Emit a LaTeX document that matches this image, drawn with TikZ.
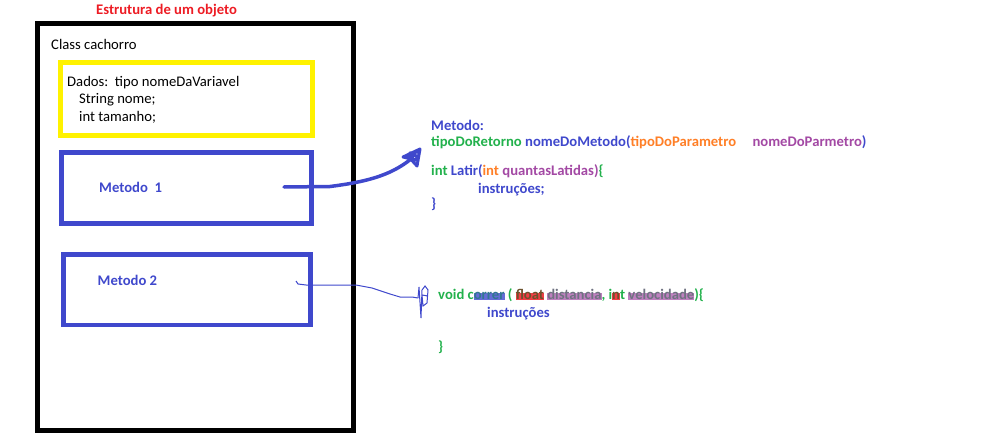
\documentclass[tikz,border=0pt]{standalone}
\usepackage{fontspec}
\setmainfont{Carlito}
\usetikzlibrary{positioning}

\definecolor{azul}{RGB}{63,72,204}
\definecolor{verde}{RGB}{34,177,76}
\definecolor{laranja}{RGB}{255,127,39}
\definecolor{roxo}{RGB}{163,73,164}
\definecolor{vermelho}{RGB}{237,28,36}
\definecolor{amarelo}{RGB}{255,242,0}

% marca de caneta por cima de uma palavra
\newsavebox\marcabox
\newcommand{\marca}[3]{\sbox\marcabox{\color{#2}#3}\rlap{\color{#1}\rule[-1pt]{\wd\marcabox}{7.5pt}}\usebox\marcabox}

\begin{document}
\begin{tikzpicture}[x=1pt, y=-1pt,
    caixa/.style={draw, rectangle, inner sep=0pt},
    texto/.style={anchor=base west, inner sep=0pt, font=\fontsize{14.67}{17.6}\selectfont},
    codigo/.style={texto, font=\fontsize{14.67}{17.6}\selectfont\bfseries}]
  \useasboundingbox (0,0) rectangle (992,444);

  \node[codigo, text=vermelho] (titulo) at (96,15) {Estrutura de um objeto};

  \node[caixa, line width=5, minimum width=316, minimum height=406.5] (classe) at (195.5,226.75) {};
  \node[texto] (nomeclasse) at (51,50) {Class cachorro};

  \node[caixa, draw=amarelo, line width=5, minimum width=252.5, minimum height=72.5] (dados) at (186.25,98.75) {};
  \node[texto] (dados1) at (67,86) {Dados:\ \ tipo nomeDaVariavel};
  \node[texto] (dados2) at (79,103.5) {String nome;};
  \node[texto] (dados3) at (79,121) {int tamanho;};

  \node[caixa, draw=azul, line width=4.7, minimum width=250, minimum height=71] (metodo1) at (186.7,188) {};
  \node[codigo, text=azul] (rotulo1) at (99,192.5) {Metodo\ \ 1};

  \node[caixa, draw=azul, line width=4.7, minimum width=247, minimum height=70.5] (metodo2) at (187,289.75) {};
  \node[codigo, text=azul] (rotulo2) at (97.5,285) {Metodo 2};

  % explicacao do metodo
  \node[codigo, text=azul] (cab) at (431,130) {Metodo:};
  \node[codigo] (assinatura) at (431,146) {\color{verde}tipoDoRetorno \color{azul}nomeDoMetodo(\color{laranja}tipoDoParametro\hspace{13pt} \color{roxo}nomeDoParmetro\color{azul})};
  \node[codigo] (latir) at (431,175) {\color{verde}int \color{azul}Latir(\color{laranja}int \color{roxo}quantasLatidas)\color{verde}\{};
  \node[codigo, text=azul] (instr1) at (478,193) {instruções;};
  \node[codigo, text=azul] (fecha1) at (431,208.5) {\}};

  \node[codigo, text=verde] (correr) at (438,299) {void c\marca{azul!80!white}{verde!45!azul}{orrer} ( \marca{vermelho!85!white}{verde!50!vermelho!80!black}{float} \marca{roxo!70!white}{verde!40!roxo}{distancia}, i\marca{vermelho!85!white}{verde!50!vermelho!80!black}{n}t \marca{roxo!70!white}{verde!40!roxo}{velocidade})\{};
  \node[codigo, text=azul] (instr2) at (487,317) {instruções};
  \node[codigo, text=verde] (fecha2) at (438,351) {\}};

  % setas feitas a mao
  \coordinate (saida1) at (284,187);
  \coordinate (ponta1) at (411,159);
  \draw[azul, line width=3.5, line cap=round, line join=round] (saida1) -- (330,186.5) .. controls (365,182) and (390,176) .. (ponta1);
  \draw[azul, line width=3, line cap=round, line join=round] (ponta1) -- (403,157) -- (420,149) -- (417,166) -- (407,155) -- (419,156) -- (414,161) -- (410,153) -- (418,152);

  \coordinate (saida2) at (296,281);
  \coordinate (ponta2) at (418,298);
  \draw[azul, line width=1] (saida2) -- (298,284) -- (306,285) -- (356,285) -- (372,288) -- (390,294) -- (400,297) -- (412,297) -- (ponta2);
  \draw[azul, line width=1] (ponta2) -- (419,287) -- (421,318) -- (422,290) -- (425,286) -- (428,290) -- (427,303) -- (423,306) -- (422,295) -- (428,296);
\end{tikzpicture}
\end{document}
